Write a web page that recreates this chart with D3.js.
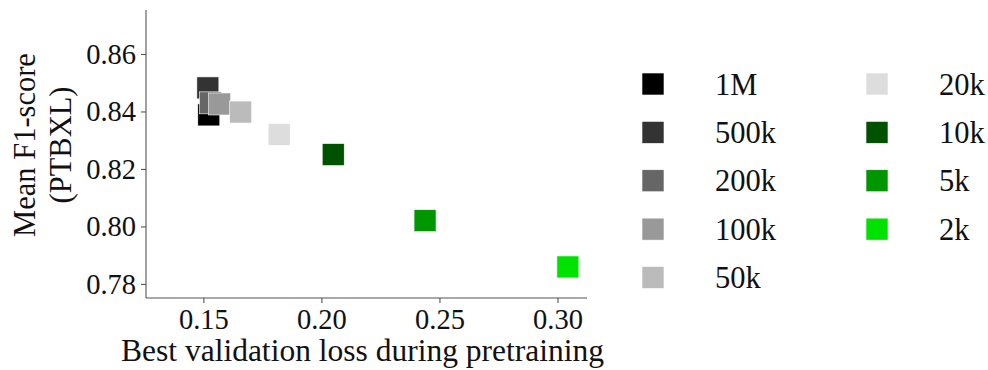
<!DOCTYPE html>
<html>
<head>
<meta charset="utf-8">
<script src="https://cdn.jsdelivr.net/npm/d3@7"></script>
<style>
  body { margin: 0; background: #fff; }
  svg text { font-family: "Liberation Serif", "Times New Roman", serif; fill: #111; }
  .axis path, .axis line { stroke: #555; stroke-width: 1.1; }
</style>
</head>
<body>
<div id="chart"></div>
<script>
// pretraining set sizes, in plotting order
var labels = ["1M", "500k", "200k", "100k", "50k", "20k", "10k", "5k", "2k"];
var colors = ["#000000", "#333333", "#666666", "#999999", "#bbbbbb", "#dddddd", "#005200", "#009600", "#00e300"];
var valLoss = [0.1523, 0.1519, 0.1530, 0.1569, 0.1658, 0.1821, 0.2050, 0.2439, 0.3044];
var meanF1 = [0.8388, 0.8482, 0.8430, 0.8426, 0.8398, 0.8320, 0.8250, 0.8020, 0.7859];
var xTicks = [0.15, 0.20, 0.25, 0.30];
var yTicks = [0.78, 0.80, 0.82, 0.84, 0.86];

var width = 988, height = 370;
var margin = { top: 10, right: 401, bottom: 72, left: 146 };
var chartWidth = width - margin.left - margin.right;
var chartHeight = height - margin.top - margin.bottom;
var serif = "'Liberation Serif', 'Times New Roman', serif";

var svg = d3.select("#chart").append("svg")
    .attr("width", width)
    .attr("height", height);

var chartGroup = svg.append("g")
    .attr("transform", `translate(${margin.left}, ${margin.top})`);

var xScale = d3.scaleLinear()
    .domain([0.1257, 0.3125])
    .range([0, chartWidth]);

var yScale = d3.scaleLinear()
    .domain([0.7751, 0.8753])
    .range([chartHeight, 0]);

var bottomAxis = d3.axisBottom(xScale).tickValues(xTicks).tickFormat(d3.format(".2f")).tickSize(5).tickPadding(6);
var leftAxis = d3.axisLeft(yScale).tickValues(yTicks).tickFormat(d3.format(".2f")).tickSize(5).tickPadding(5);

var gx = chartGroup.append("g")
    .classed("axis", true)
    .attr("transform", "translate(0, " + chartHeight + ")")
    .call(bottomAxis);
gx.select(".domain").attr("d", `M0,0H${chartWidth}`);

var gy = chartGroup.append("g")
    .classed("axis", true)
    .call(leftAxis);
gy.select(".domain").attr("d", `M0,${chartHeight}V0`);

svg.selectAll(".axis").attr("font-family", null);
svg.selectAll(".axis text")
    .style("font-size", "28.5px")
    .style("font-family", serif)
    .attr("fill", "#111");

var points = labels.map(function(d, i) {
    return { label: d, color: colors[i], x: valLoss[i], y: meanF1[i] };
});

var size = 22;
chartGroup.selectAll("rect.pt")
    .data(points)
    .enter()
    .append("rect")
    .classed("pt", true)
    .attr("x", d => xScale(d.x) - size / 2)
    .attr("y", d => yScale(d.y) - size / 2)
    .attr("width", size)
    .attr("height", size)
    .attr("fill", d => d.color)
    .attr("stroke", "#fff")
    .attr("stroke-width", 0.6);

// axis titles
svg.append("text")
    .attr("x", margin.left + chartWidth / 2 - 4)
    .attr("y", 361)
    .attr("text-anchor", "middle")
    .style("font-family", serif)
    .style("font-size", "31.5px")
    .text("Best validation loss during pretraining");

var yTitle = svg.append("text")
    .attr("transform", "translate(35, 145) rotate(-90)")
    .attr("text-anchor", "middle")
    .style("font-family", serif)
    .style("font-size", "30.5px");
yTitle.append("tspan").attr("x", 0).attr("dy", 0).text("Mean F1-score");
yTitle.append("tspan").attr("x", 0).attr("dy", 36).text("(PTBXL)");

// legend: two columns, 5 rows
var rowScale = d3.scalePoint().domain(d3.range(5)).range([84, 277.5]);
var colX = [653, 877];

var legend = svg.append("g").selectAll("g")
    .data(points)
    .enter()
    .append("g")
    .attr("transform", (d, i) => `translate(${colX[Math.floor(i / 5)]}, ${rowScale(i % 5)})`);

legend.append("rect")
    .attr("x", -size / 2)
    .attr("y", -size / 2)
    .attr("width", size)
    .attr("height", size)
    .attr("fill", d => d.color)
    .attr("stroke", "#fff")
    .attr("stroke-width", 0.6);

legend.append("text")
    .attr("x", 62)
    .attr("y", 10.5)
    .style("font-family", serif)
    .style("font-size", "30.5px")
    .text(d => d.label);
</script>
</body>
</html>
